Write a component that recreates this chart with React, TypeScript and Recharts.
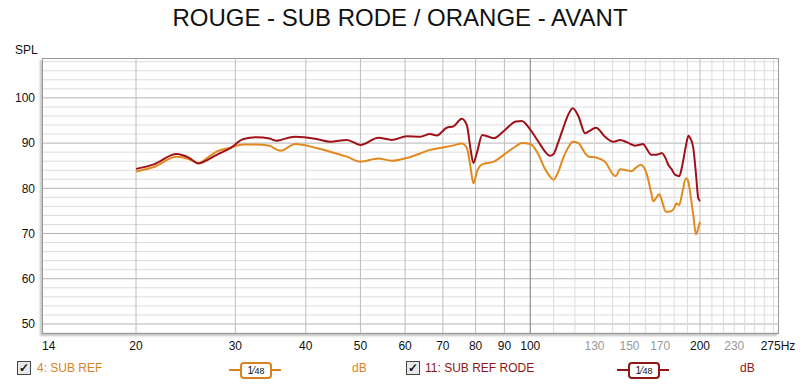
import { LineChart, Line, XAxis, YAxis, ReferenceLine } from 'recharts';

// frequency (Hz)
const freqs = [
  20, 21.5, 23.6, 24.8, 25.8, 26.8, 27.8, 29.4, 31, 32.7, 34.5, 35.5, 36.1, 38.3, 41.8, 44.2,
  47.3, 50, 53.8, 56.8, 60.4, 63.8, 66.4, 68.3, 71.1, 73.1, 75.6, 77.2, 78.3, 79.3, 80.5, 82.2,
  86.2, 90, 94.3, 96.6, 100, 103.4, 106, 108.4, 110, 112, 114.4, 117, 119, 121.7, 125.1, 127,
  130.8, 135.7, 140.4, 141.8, 144.3, 148.3, 151.3, 153.4, 157, 158.7, 160.4, 164.2, 165.2, 169.4,
  171, 174, 175.7, 178.2, 180.6, 181.5, 183.8, 186, 188.9, 190.7, 192, 194.6, 196.8, 198.6, 200,
];

// 11: SUB REF RODE (red)
const subRefRode = [
  84.3, 85.3, 87.6, 86.8, 85.5, 86.3, 87.4, 88.9, 90.9, 91.3, 91.0, 90.5, 90.7, 91.4, 90.9, 90.3,
  90.7, 89.6, 91.2, 90.7, 91.5, 91.4, 92.0, 91.7, 93.4, 93.7, 95.4, 94.0, 89.0, 85.6, 88.0, 91.8,
  91.1, 92.8, 94.8, 94.9, 93.0, 90.3, 88.3, 87.2, 87.6, 90.0, 93.3, 96.5, 97.7, 96.0, 92.2, 92.6,
  93.4, 91.4, 90.3, 90.4, 90.7, 90.2, 89.7, 89.4, 89.7, 89.8, 89.0, 87.4, 87.4, 87.6,
  87.8, 86.5, 85.2, 84.2, 83.0, 82.9, 82.7, 85.0, 89.5, 91.6, 91.2, 88.9, 83.0, 77.8, 77.2,
];

// 4: SUB REF (orange)
const subRef = [
  83.7, 84.7, 87.0, 86.5, 85.6, 86.8, 88.1, 89.0, 89.7, 89.7, 89.4, 88.6, 88.3, 89.8, 88.9, 88.1,
  87.0, 85.9, 86.6, 86.1, 86.7, 87.7, 88.5, 88.8, 89.2, 89.5, 89.9, 88.9, 85.0, 81.1, 83.8, 85.3,
  85.9, 87.5, 89.3, 90.0, 89.8, 87.5, 84.5, 82.6, 81.9, 83.5, 86.7, 89.2, 90.3, 90.0, 87.8, 87.0,
  86.8, 85.9, 83.0, 82.7, 84.2, 84.0, 83.8, 84.4, 85.2, 84.8, 83.7, 78.5, 77.1, 78.7,
  77.5, 74.8, 74.8, 75.0, 76.0, 76.7, 76.3, 79.0, 82.2, 81.5, 79.3, 74.0, 69.8, 71.2, 72.6,
];

const xTicks = [14, 20, 30, 40, 50, 60, 70, 80, 90, 100, 130, 150, 170, 200, 230, 275];
const greyTicks = [130, 150, 170, 230];
const yTicks = [50, 60, 70, 80, 90, 100];

const xMajorGrid = [20, 30, 40, 50, 60, 70, 80, 90, 200];
const xMinorGrid = [110, 120, 130, 140, 150, 160, 170, 180, 190, 210, 220, 230, 240, 250, 260, 270];
const yGrid = [48, 50, 52, 54, 56, 58, 60, 62, 64, 66, 68, 70, 72, 74, 76, 78, 80, 82, 84, 86, 88, 90, 92, 94, 96, 98, 100, 102, 104, 106, 108];

const data = freqs.map((f, i) => ({ f, red: subRefRode[i], orange: subRef[i] }));

const RED = '#a0121a';
const ORANGE = '#e2891f';

const XTick = (props: any) => {
  const { x, y, payload } = props;
  const v = payload.value;
  return (
    <text x={x} y={y + 9} textAnchor="middle" fontSize={12} fill={greyTicks.includes(v) ? '#999' : '#111'}>
      {v === 275 ? '275Hz' : v}
    </text>
  );
};

const FilterBox = ({ left, color }: { left: number; color: string }) => (
  <div style={{ position: 'absolute', left, top: 362, width: 52, height: 16 }}>
    <div style={{ position: 'absolute', left: 0, right: 0, top: 7, height: 2, background: color }} />
    <div
      style={{
        position: 'absolute', left: 11, top: 0, width: 28, height: 13, background: '#fff',
        border: `2px solid ${color}`, borderRadius: 4, fontSize: 10, color: '#111',
        lineHeight: '13px', textAlign: 'center',
      }}
    >
      1⁄<span style={{ fontSize: 9 }}>48</span>
    </div>
  </div>
);

const CheckBox = ({ left }: { left: number }) => (
  <div
    style={{
      position: 'absolute', left, top: 361, width: 12, height: 12, border: '1px solid #444',
      background: '#e8e8e8', fontSize: 12, fontWeight: 'bold', lineHeight: '12px', textAlign: 'center', color: '#111',
    }}
  >
    ✓
  </div>
);

const App = () => {
  return (
    <div style={{ position: 'absolute', left: 0, top: 0, width: 800, height: 384, background: '#fff', fontFamily: 'Arial, "Liberation Sans", sans-serif' }}>
      <div style={{ position: 'absolute', left: 0, width: 800, top: 4, textAlign: 'center', fontSize: 24, color: '#111' }}>
        ROUGE - SUB RODE / ORANGE - AVANT
      </div>
      <div style={{ position: 'absolute', left: 15, top: 43, fontSize: 12, color: '#111' }}>SPL</div>
      <LineChart width={800} height={384} data={data} margin={{ top: 59, right: 22, bottom: 21, left: 0 }}>
        {yGrid.map((v) => (
          <ReferenceLine key={'y' + v} y={v} stroke={v % 10 === 0 ? '#b4b4b4' : '#dcdcdc'} strokeWidth={1} />
        ))}
        {xMinorGrid.map((v) => (
          <ReferenceLine key={'xm' + v} x={v} stroke="#dcdcdc" strokeWidth={1} />
        ))}
        {xMajorGrid.map((v) => (
          <ReferenceLine key={'xM' + v} x={v} stroke="#bdbdbd" strokeWidth={1} />
        ))}
        <ReferenceLine x={100} stroke="#7a7a7a" strokeWidth={1} />
        <XAxis
          dataKey="f"
          type="number"
          scale="log"
          domain={[13.68, 275]}
          ticks={xTicks}
          allowDataOverflow
          axisLine={false}
          tickLine={false}
          height={30}
          tick={<XTick />}
        />
        <YAxis
          type="number"
          domain={[48, 108.6]}
          ticks={yTicks}
          allowDataOverflow
          axisLine={false}
          tickLine={false}
          width={43}
          tick={{ fontSize: 12, fill: '#111' }}
          tickMargin={2}
        />
        <Line type="monotone" dataKey="orange" stroke={ORANGE} strokeWidth={2} dot={false} isAnimationActive={false} />
        <Line type="monotone" dataKey="red" stroke={RED} strokeWidth={2} dot={false} isAnimationActive={false} />
      </LineChart>
      <div
        style={{
          position: 'absolute', left: 42, top: 58, width: 735, height: 274, border: '1px solid #9a9a9a',
          boxShadow: '-2px 2px 2px #c4c4c4', pointerEvents: 'none',
        }}
      />
      <CheckBox left={17} />
      <div style={{ position: 'absolute', left: 37, top: 361, fontSize: 12, color: '#d8831f' }}>4: SUB REF</div>
      <FilterBox left={229} color="#d8831f" />
      <div style={{ position: 'absolute', left: 352, top: 361, fontSize: 12, color: '#d8831f' }}>dB</div>
      <CheckBox left={406} />
      <div style={{ position: 'absolute', left: 425, top: 361, fontSize: 12, color: '#8e1616' }}>11: SUB REF RODE</div>
      <FilterBox left={617} color="#8e1616" />
      <div style={{ position: 'absolute', left: 740, top: 361, fontSize: 12, color: '#8e1616' }}>dB</div>
    </div>
  );
};

export default App;
